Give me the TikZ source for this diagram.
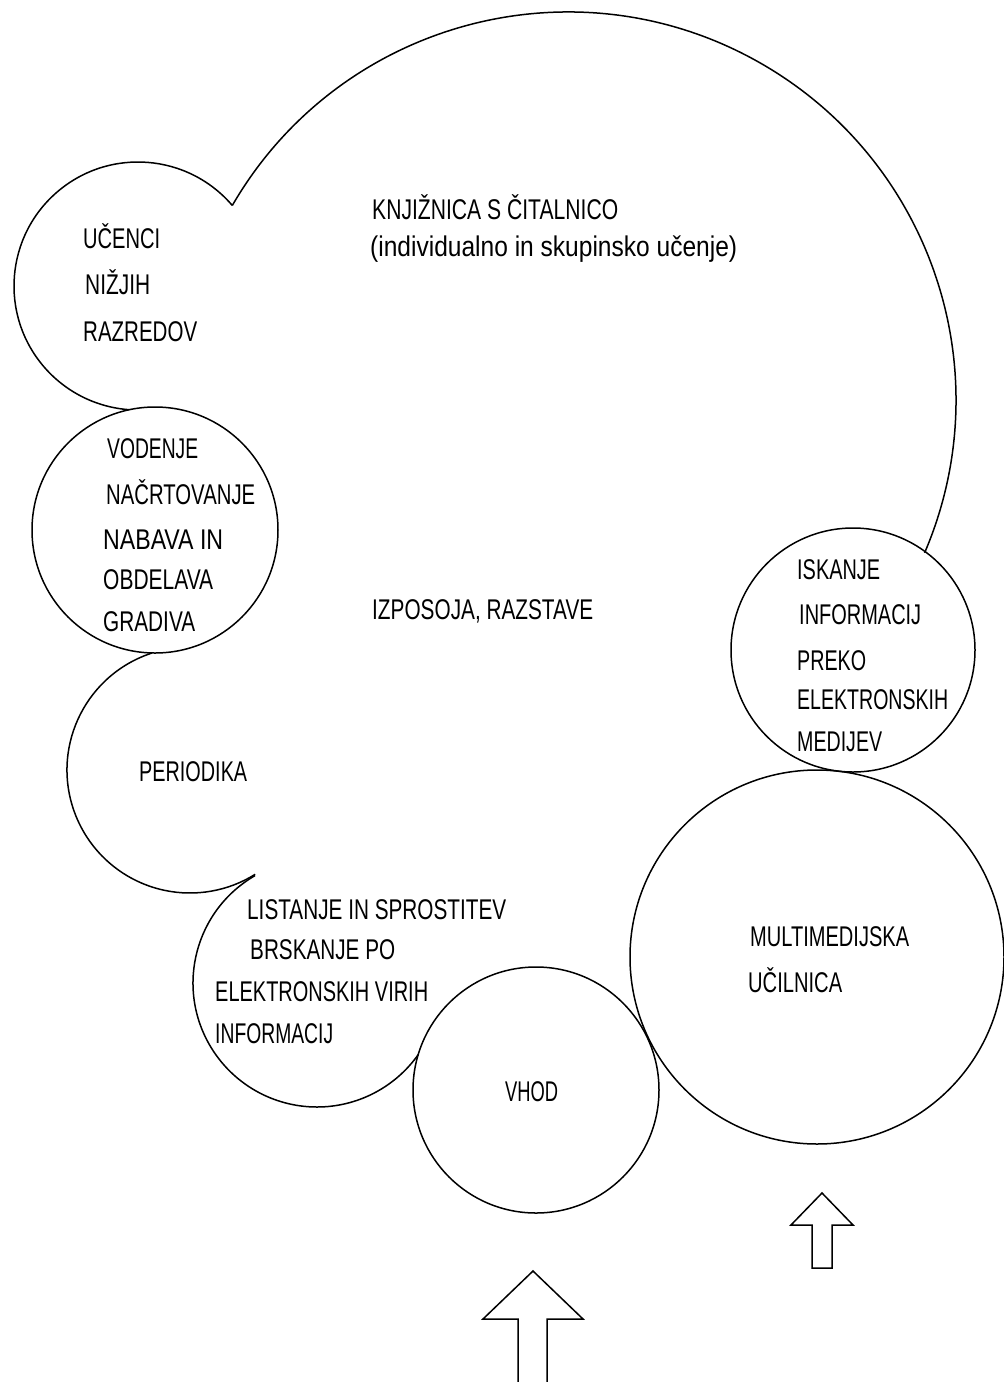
\documentclass[tikz,border=0pt]{standalone}
\usepackage{fontspec}
\setmainfont{Liberation Sans}
\usepackage{graphicx}
\newcommand{\fitw}[2]{\resizebox{#1pt}{\height}{#2}}
\begin{document}
\begin{tikzpicture}[x=1pt,y=1pt,
  outline/.style={draw=black, line width=1.5pt},
  lbl/.style={anchor=base west, inner sep=0pt, font=\fontsize{28.5}{31}\selectfont},
  blockarrow/.style={draw=black, line width=1.5pt, line join=miter}]
\useasboundingbox (0,0) rectangle (1004,-1382);
% centres of the bubbles
\coordinate (Bc) at (568,-400);
\coordinate (Uc) at (138,-286);
\coordinate (Vc) at (155,-530);
\coordinate (Pc) at (190,-770);
\coordinate (Lc) at (317,-983);
\coordinate (Hc) at (536,-1090);
\coordinate (Mc) at (817,-957);
\coordinate (Ic) at (853,-650);
% outline arcs
\draw[outline] (Bc) ++(149.9:388) arc[start angle=149.9, end angle=-23.2, radius=388];
\draw[outline] (Uc) ++(40.5:124) arc[start angle=40.5, end angle=266, radius=124];
\draw[outline] (Vc) circle[radius=123];
\draw[outline] (Pc) ++(108:123) arc[start angle=108, end angle=302, radius=123];
\draw[outline] (Lc) ++(120:124) arc[start angle=120, end angle=324.8, radius=124];
\draw[outline] (Hc) circle[radius=123];
\draw[outline] (Mc) circle[radius=187];
\draw[outline] (Ic) circle[radius=122];
% block arrows
\draw[blockarrow] (518,-1390) -- (518,-1319) -- (483,-1319) -- (533,-1271) -- (583,-1319) -- (547,-1319) -- (547,-1390);
\draw[blockarrow] (812,-1268) -- (812,-1225) -- (791,-1225) -- (822,-1193) -- (853,-1225) -- (832,-1225) -- (832,-1268) -- cycle;
% texts
\node[lbl] (t1) at (372,-219) {\fitw{246}{KNJIŽNICA S ČITALNICO}};
\node[lbl] (t2) at (370,-256) {\fitw{367}{(individualno in skupinsko učenje)}};
\node[lbl] (u1) at (83,-248) {\fitw{77}{UČENCI}};
\node[lbl] (u2) at (85,-294) {\fitw{65}{NIŽJIH}};
\node[lbl] (u3) at (83,-341) {\fitw{114}{RAZREDOV}};
\node[lbl] (v1) at (107,-458) {\fitw{91}{VODENJE}};
\node[lbl] (v2) at (106,-504) {\fitw{149}{NAČRTOVANJE}};
\node[lbl] (v3) at (103,-549) {\fitw{120}{NABAVA IN}};
\node[lbl] (v4) at (103,-589) {\fitw{110}{OBDELAVA}};
\node[lbl] (v5) at (103,-631) {\fitw{92}{GRADIVA}};
\node[lbl] (p1) at (139,-781) {\fitw{108}{PERIODIKA}};
\node[lbl] (iz) at (372,-619) {\fitw{221}{IZPOSOJA, RAZSTAVE}};
\node[lbl] (l1) at (247,-919) {\fitw{259}{LISTANJE IN SPROSTITEV}};
\node[lbl] (l2) at (250,-959) {\fitw{145}{BRSKANJE PO}};
\node[lbl] (l3) at (215,-1001) {\fitw{213}{ELEKTRONSKIH VIRIH}};
\node[lbl] (l4) at (215,-1043) {\fitw{118}{INFORMACIJ}};
\node[lbl] (h1) at (505,-1101) {\fitw{53}{VHOD}};
\node[lbl] (m1) at (750,-946) {\fitw{159}{MULTIMEDIJSKA}};
\node[lbl] (m2) at (748,-992) {\fitw{94}{UČILNICA}};
\node[lbl] (i1) at (797,-579) {\fitw{83}{ISKANJE}};
\node[lbl] (i2) at (799,-624) {\fitw{122}{INFORMACIJ}};
\node[lbl] (i3) at (797,-670) {\fitw{69}{PREKO}};
\node[lbl] (i4) at (797,-709) {\fitw{151}{ELEKTRONSKIH}};
\node[lbl] (i5) at (797,-751) {\fitw{85}{MEDIJEV}};
\end{tikzpicture}
\end{document}
